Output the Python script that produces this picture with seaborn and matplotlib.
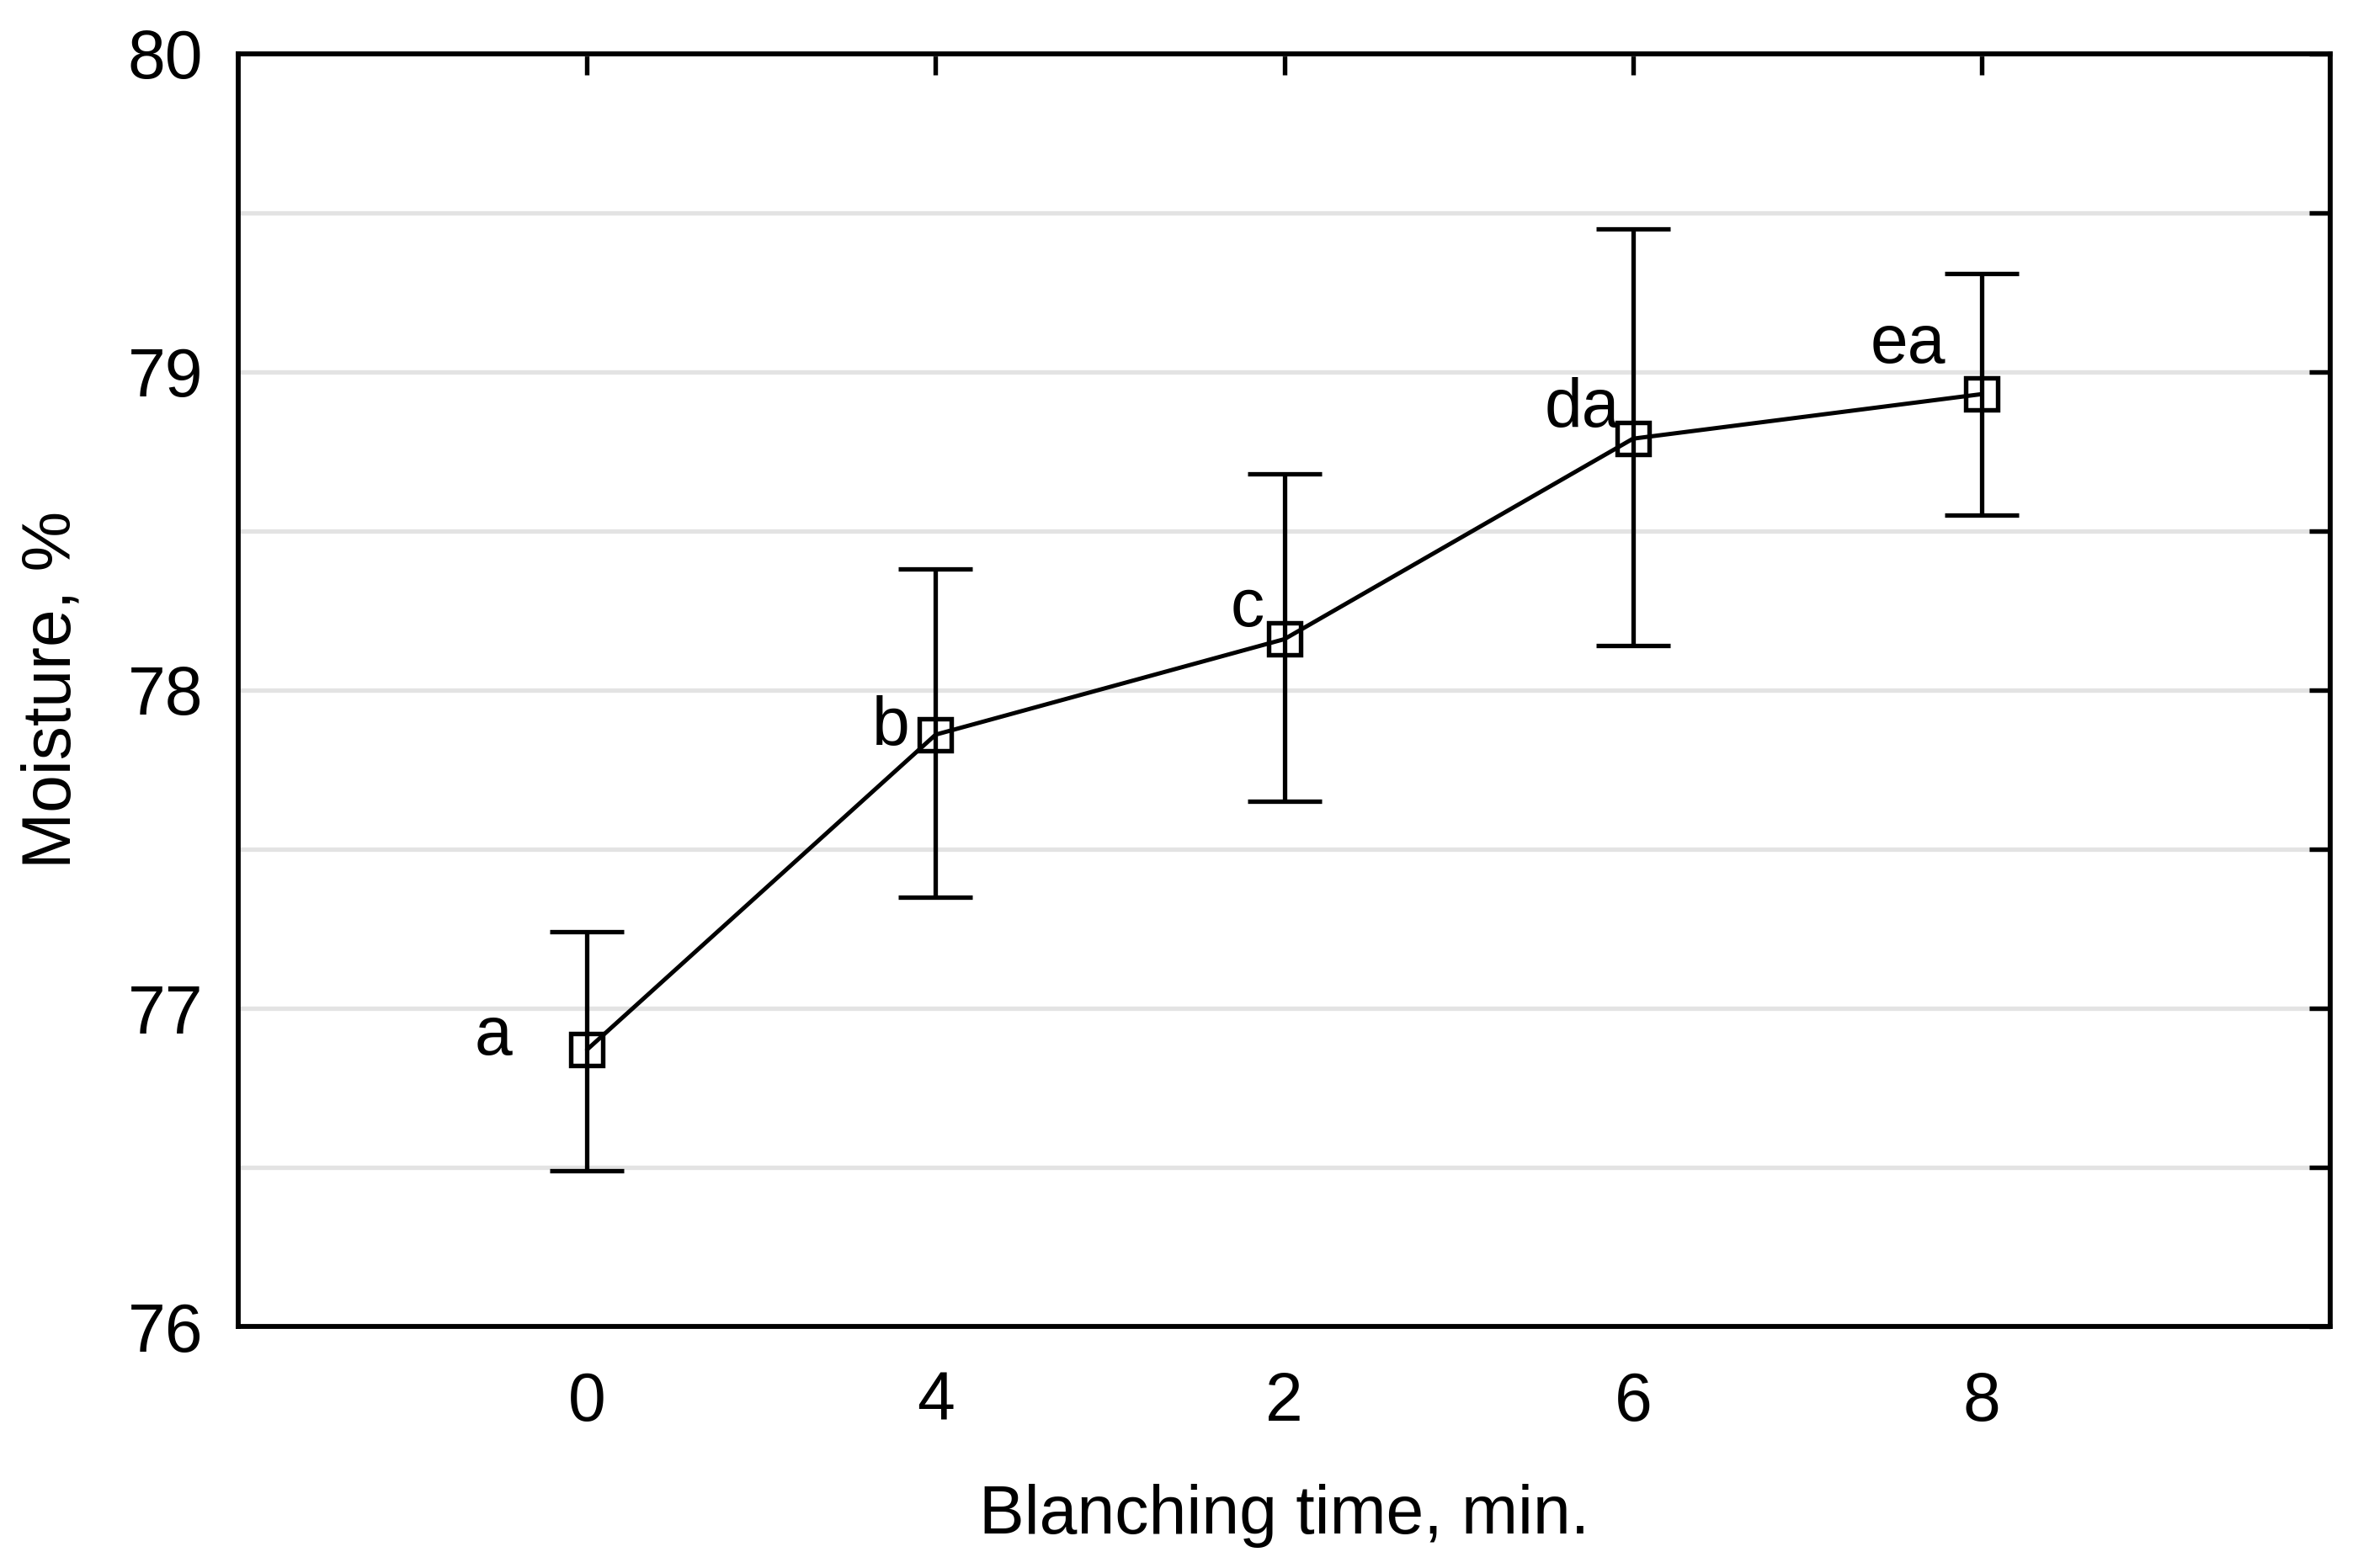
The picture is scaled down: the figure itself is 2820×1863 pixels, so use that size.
# Moisture vs blanching time, point plot with error bars
import numpy as np
import seaborn as sns
import matplotlib.pyplot as plt
from matplotlib.ticker import MultipleLocator

# Data
times = ["0", "4", "2", "6", "8"]
moisture = [76.87, 77.86, 78.16, 78.79, 78.93]
upper = [77.24, 78.38, 78.68, 79.45, 79.31]
lower = [76.49, 77.35, 77.65, 78.14, 78.55]
letters = ["a", "b", "c", "da", "ea"]

# Offsets (points) of the letter labels from each marker
label_offsets = [(-64, -4), (-22, -9), (-17, 11), (-11, 10), (-31, 27)]


def plot_moisture():
    """Draws the moisture chart and saves it as out.png."""
    sns.set_style("white")
    plt.rcParams["font.family"] = ["Liberation Sans", "DejaVu Sans"]
    plt.rcParams["text.color"] = "black"
    plt.rcParams["axes.labelcolor"] = "black"
    plt.rcParams["xtick.color"] = "black"
    plt.rcParams["ytick.color"] = "black"

    fig = plt.figure(figsize=(28.2, 18.63), dpi=100)
    ax = fig.add_axes([0.1004, 0.154, 0.8812, 0.8118])

    # Means as connected open squares
    sns.pointplot(x=times, y=moisture, order=times, color="black",
                  markers="s", linestyles="-", errorbar=None,
                  markersize=27, markeredgewidth=3.9, linewidth=3.6,
                  markerfacecolor="none", ax=ax, zorder=3)

    # Error bars at the categorical positions
    pos = np.arange(len(times))
    yerr = [np.array(moisture) - np.array(lower),
            np.array(upper) - np.array(moisture)]
    ax.errorbar(pos, moisture, yerr=yerr, fmt="none", ecolor="black",
                elinewidth=3.8, capsize=31.7, capthick=3.8, zorder=2)

    # Letters next to the points
    for x, y, txt, off in zip(pos, moisture, letters, label_offsets):
        ax.annotate(txt, (x, y), xytext=off, textcoords="offset points",
                    ha="right", va="baseline", fontsize=58, color="black")

    # Axes limits and ticks
    ax.set_xlim(-1, 5)
    ax.set_ylim(76, 80)
    ax.yaxis.set_major_locator(MultipleLocator(1))
    ax.yaxis.set_minor_locator(MultipleLocator(0.5))
    ax.tick_params(axis="both", which="both", direction="in", length=18,
                   width=3.9, color="black", labelcolor="black",
                   top=True, right=True, labelsize=58)
    ax.tick_params(axis="x", pad=38)
    ax.tick_params(axis="y", pad=30)

    # Light horizontal grid
    ax.grid(False)
    ax.yaxis.grid(True, which="both", color="#e3e3e3", linewidth=3.8)
    ax.set_axisbelow(True)

    for spine in ax.spines.values():
        spine.set_visible(True)
        spine.set_color("black")
        spine.set_linewidth(4.2)

    ax.set_xlabel("Blanching time, min.", fontsize=58, labelpad=42,
                  color="black")
    ax.set_ylabel("Moisture, %", fontsize=58, labelpad=37, color="black")

    fig.savefig("out.png", dpi=100, facecolor="white")


def main():
    plot_moisture()


if __name__ == "__main__":
    main()
